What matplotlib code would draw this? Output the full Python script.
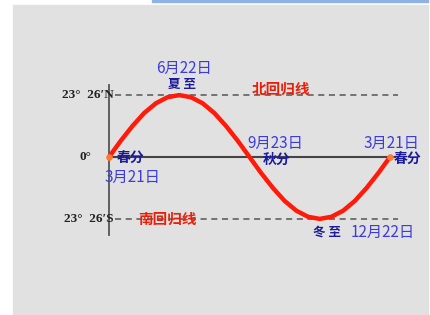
import numpy as np
import matplotlib.pyplot as plt
from matplotlib.patches import Rectangle

plt.rcParams['font.family'] = ['Noto Sans CJK SC', 'DejaVu Sans']

# direct-sun latitude through the year, read every half month (deg, + = N)
step = np.arange(25)
lat = [0, 6.1, 11.7, 16.6, 20.3, 22.6, 23.4, 22.6, 20.3, 16.6, 11.7, 6.1, 0,
       -6.1, -11.7, -16.6, -20.3, -22.6, -23.4, -22.6, -20.3, -16.6, -11.7, -6.1, 0]
tropic = 23.43

# key days: label date and solar term
key_date = ['3月21日', '6月22日', '9月23日', '12月22日', '3月21日']
key_term = ['春分', '夏 至', '秋分', '冬 至', '春分']
ytick_lbl = ['23°  26′N', '0°', '23°  26′S']
tropic_name = ['北回归线', '南回归线']

W, H = 430, 315
fig = plt.figure(figsize=(W / 100, H / 100), dpi=100)
ax = fig.add_axes([0, 0, 1, 1])
# pixel mapping: x0 at px 109, one period = 281 px; lat 0 at py 157, 2.645 px/deg
sx = 281 / 24
sy = 2.645
ax.set_xlim((0 - 109) / sx, (W - 109) / sx)
ax.set_ylim((157 - H) / sy, 157 / sy)
ax.axis('off')

def px(x, y):
    return (x - 109) / sx, (157 - y) / sy

# background panel and top blue strip
x0, y0 = px(13, 315)
x1, y1 = px(428, 5)
ax.add_patch(Rectangle((x0, y0), x1 - x0, y1 - y0, color='#e1e1e1', zorder=0))
bx0, by0 = px(152, 2)
bx1, by1 = px(428, 0)
ax.add_patch(Rectangle((bx0, by0), bx1 - bx0, by1 - by0, color='#8fb2e6', zorder=0))

# axes lines
ya, yb = px(0, 85)[1], px(0, 235)[1]
ax.plot([0, 0], [ya, yb], color='#555555', lw=1.3, zorder=2)
ax.plot([0, px(395, 0)[0]], [0, 0], color='#444444', lw=1.5, zorder=2)
xe = px(398, 0)[0]
for yv in (tropic, -tropic):
    ax.plot([px(115, 0)[0], xe], [yv, yv], color='#555555', lw=1.1,
            ls=(0, (4, 3)), zorder=2)

# curve
ax.plot(step, lat, color='#ff1a0a', lw=3.2, solid_capstyle='round', zorder=3)
ax.scatter([0, 24], [0, 0], s=14, color='#ff7a30', zorder=4)

# left labels
serif = ['Liberation Serif', 'DejaVu Serif']
ax.text(px(114, 0)[0], tropic, ytick_lbl[0], ha='right', va='center',
        fontsize=9.5, family=serif, fontweight='bold', color='#222222', zorder=5)
ax.text(px(91, 0)[0], 0, ytick_lbl[1], ha='right', va='center',
        fontsize=9.5, family=serif, fontweight='bold', color='#222222')
ax.text(px(114, 0)[0], -tropic, ytick_lbl[2], ha='right', va='center',
        fontsize=9.5, family=serif, fontweight='bold', color='#222222', zorder=5)

date_c = '#3b3be0'
term_c = '#1a1a9a'
red_c = '#e8200a'

# dates
dfs = 11
ax.text(*px(184, 68), key_date[1], ha='center', va='center', fontsize=dfs, color=date_c)
ax.text(*px(275, 143), key_date[2], ha='center', va='center', fontsize=dfs, color=date_c)
ax.text(*px(391, 143), key_date[4], ha='center', va='center', fontsize=dfs, color=date_c)
ax.text(*px(132, 177), key_date[0], ha='center', va='center', fontsize=dfs, color=date_c)
ax.text(*px(383, 232), key_date[3], ha='center', va='center', fontsize=dfs, color=date_c)

# solar terms
ax.text(*px(182, 84), key_term[1], ha='center', va='center', fontsize=9,
        fontweight='bold', color=term_c)
ax.text(*px(277, 160), key_term[2], ha='center', va='center', fontsize=10,
        fontweight='bold', color=term_c)
ax.text(*px(408, 160), key_term[4], ha='center', va='center', fontsize=10,
        fontweight='bold', color=term_c)
ax.text(*px(131, 159), key_term[0], ha='center', va='center', fontsize=10,
        fontweight='bold', color=term_c)
ax.text(*px(327, 232), key_term[3], ha='center', va='center', fontsize=9,
        fontweight='bold', color=term_c)

# tropic names
ax.text(*px(281, 89), tropic_name[0], ha='center', va='center', fontsize=10.5,
        fontweight='bold', color=red_c, zorder=5)
ax.text(*px(167, 219), tropic_name[1], ha='center', va='center', fontsize=10.5,
        fontweight='bold', color=red_c, zorder=5)

fig.savefig('out.png', dpi=100, facecolor='white')
